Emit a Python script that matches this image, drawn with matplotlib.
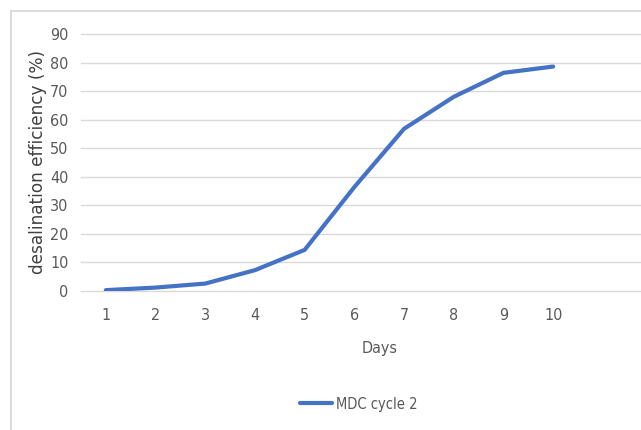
import matplotlib
matplotlib.use("Agg")
import matplotlib.pyplot as plt
from matplotlib.lines import Line2D

plt.rcParams['font.family'] = ['DejaVu Sans']
plt.rcParams['font.stretch'] = 'condensed'

# data
days = [1, 2, 3, 4, 5, 6, 7, 8, 9, 10]
efficiency = [0.3, 1.2, 2.6, 7.3, 14.4, 36.4, 56.8, 68.0, 76.4, 78.6]
yticks = [0, 10, 20, 30, 40, 50, 60, 70, 80, 90]

W, H = 641, 430
fig = plt.figure(figsize=(W / 100, H / 100), dpi=100)
fig.patch.set_facecolor('white')

# outer chart border (cropped at right / bottom like the reference)
bc = '#d9d9d9'
fig.add_artist(Line2D([10.5 / W, 10.5 / W], [0, 1 - 10.5 / H], color=bc, lw=1.3))
fig.add_artist(Line2D([10.5 / W, 1], [1 - 10.5 / H, 1 - 10.5 / H], color=bc, lw=1.3))

# plot area runs past the right edge (12 category slots, cropped)
slot = 49.7
left, right = 81 / W, (81 + 12 * slot) / W
bottom, top = (H - 291) / H, (H - 34) / H
ax = fig.add_axes([left, bottom, right - left, top - bottom])

ax.set_xlim(0.5, 12.5)
ax.set_ylim(0, 90)

ax.plot(days, efficiency, color='#4472C4', lw=3.0, solid_capstyle='round',
        solid_joinstyle='round', label='MDC cycle 2', zorder=3)

ax.set_yticks(yticks)
ax.set_xticks(days)
for y in yticks:
    ax.axhline(y, color='#d9d9d9', lw=1.0, zorder=1, clip_on=False)

for s in ax.spines.values():
    s.set_visible(False)
ax.tick_params(axis='both', length=0, colors='#595959', labelsize=11.5)
ax.tick_params(axis='y', pad=9)
ax.tick_params(axis='x', pad=12)

ax.set_xlabel('Days', color='#595959', fontsize=11.5, labelpad=13)
ax.set_ylabel('desalination efficiency (%)', color='#404040', fontsize=12.2,
              labelpad=2, family=['DejaVu Sans'], stretch='normal')

fig.legend(loc='center', bbox_to_anchor=(359 / W, 1 - 404 / H), frameon=False,
           fontsize=10.5, labelcolor='#595959', handlelength=2.2,
           handletextpad=0.25)

fig.savefig('out.png', dpi=100, facecolor='white')
